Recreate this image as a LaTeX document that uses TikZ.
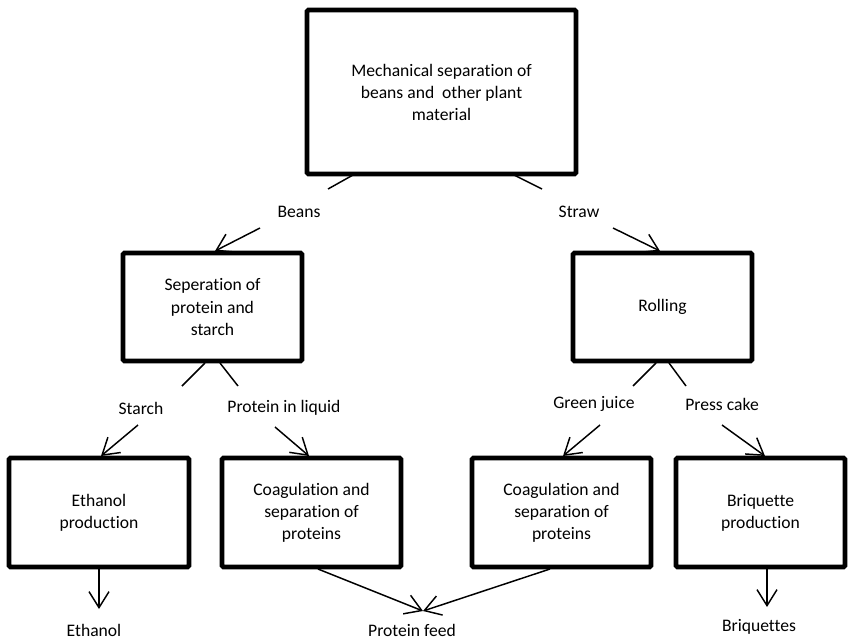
\documentclass[tikz,border=0pt]{standalone}
\usepackage{fontspec}
\setmainfont[Ligatures=NoCommon]{Carlito}
\usetikzlibrary{arrows.meta}
\begin{document}
\begin{tikzpicture}[x=0.75pt,y=-0.75pt,
  box/.style={draw, line width=3.5pt, rounded corners=1pt, align=center, inner sep=0pt,
    font=\fontsize{13.2}{16.5}\selectfont},
  lbl/.style={inner sep=0pt, font=\fontsize{13.2}{16.5}\selectfont},
  conn/.style={line width=1.1pt},
  arr/.style={conn, -{Straight Barb[length=12pt,width=15pt,line width=1.1pt]}}]
\useasboundingbox (0,0) rectangle (848,640);

% boxes
\node[box, minimum width=201.75pt, minimum height=123pt] (top) at (441.5,92)
  {Mechanical separation of\\beans and\ \ other plant\\material};
\node[box, minimum width=134.25pt, minimum height=81pt] (sep) at (212.5,307)
  {Seperation of\\protein and\\starch};
\node[box, minimum width=134.25pt, minimum height=81pt] (roll) at (662.5,307) {Rolling};
\node[box, minimum width=135pt, minimum height=81.75pt] (eth) at (99,512.5)
  {Ethanol\\production};
\node[box, minimum width=134.25pt, minimum height=81.75pt] (coagA) at (311.5,512.5)
  {Coagulation and\\separation of\\proteins};
\node[box, minimum width=134.25pt, minimum height=81.75pt] (coagB) at (561.5,512.5)
  {Coagulation and\\separation of\\proteins};
\node[box, minimum width=126.75pt, minimum height=81.75pt] (briq) at (760.5,512.5)
  {Briquette\\production};

% labels
\node[lbl] (beans) at (299,212) {Beans};
\node[lbl] (straw) at (579,212) {Straw};
\node[lbl] (starch) at (141,408) {Starch};
\node[lbl] (protliq) at (284,408) {Protein in liquid};
\node[lbl] (green) at (594,404) {Green juice};
\node[lbl] (press) at (722,404) {Press cake};
\node[lbl] (ethanol) at (94,630) {Ethanol};
\node[lbl] (feed) at (412,630) {Protein feed};
\node[lbl] (briqs) at (759,627) {Briquettes};

% connector end points
\coordinate (b1) at (353,175); \coordinate (b2) at (328,189);
\coordinate (b3) at (260,228); \coordinate (b4) at (215,251);
\coordinate (s1) at (514,175); \coordinate (s2) at (542,189);
\coordinate (s3) at (613,228); \coordinate (s4) at (660,251);
\coordinate (st1) at (205,363); \coordinate (st2) at (182,386);
\coordinate (st3) at (138,425); \coordinate (st4) at (101,456);
\coordinate (p1) at (220,363); \coordinate (p2) at (238,386);
\coordinate (p3) at (275,427); \coordinate (p4) at (309,456);
\coordinate (g1) at (656,363); \coordinate (g2) at (633,386);
\coordinate (g3) at (600,425); \coordinate (g4) at (563,456);
\coordinate (c1) at (669,363); \coordinate (c2) at (686,386);
\coordinate (c3) at (722,425); \coordinate (c4) at (765,456);
\coordinate (e1) at (99,569);  \coordinate (e2) at (99,609);
\coordinate (f1) at (318,569); \coordinate (f2) at (550,569);
\coordinate (f0) at (423,611);
\coordinate (q1) at (767,569); \coordinate (q2) at (767,607);

% connectors
\draw[conn] (b1) -- (b2); \draw[arr] (b3) -- (b4);
\draw[conn] (s1) -- (s2); \draw[arr] (s3) -- (s4);
\draw[conn] (st1) -- (st2); \draw[arr] (st3) -- (st4);
\draw[conn] (p1) -- (p2); \draw[arr] (p3) -- (p4);
\draw[conn] (g1) -- (g2); \draw[arr] (g3) -- (g4);
\draw[conn] (c1) -- (c2); \draw[arr] (c3) -- (c4);
\draw[arr] (e1) -- (e2);
\draw[arr] (f1) -- (f0);
\draw[arr] (f2) -- (f0);
\draw[arr] (q1) -- (q2);
\end{tikzpicture}
\end{document}
